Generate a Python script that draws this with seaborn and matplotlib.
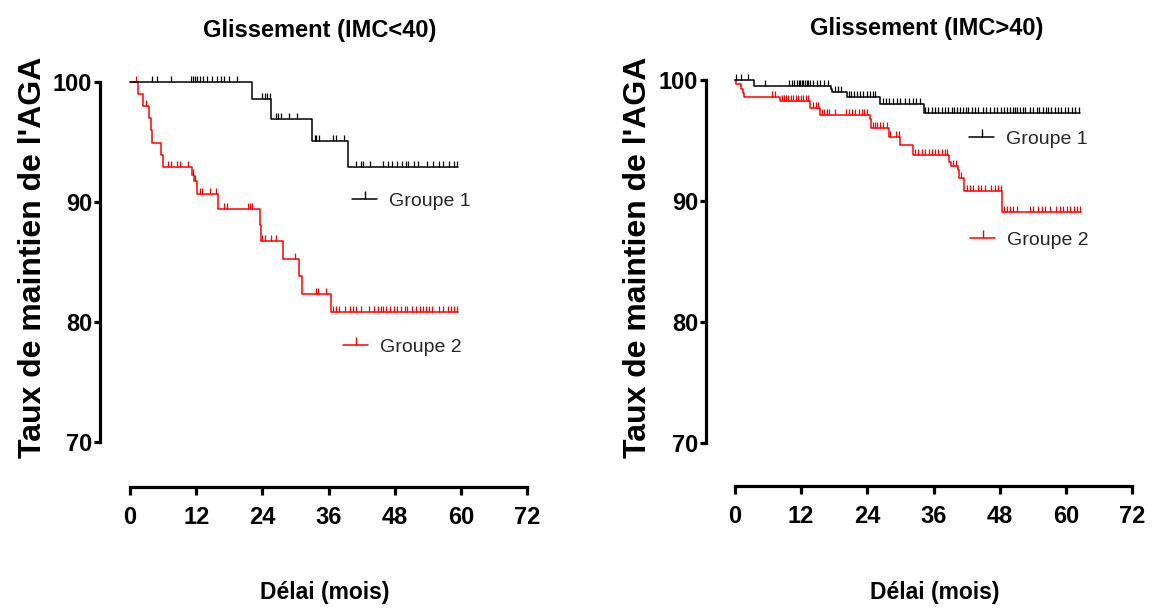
import numpy as np
import pandas as pd
import matplotlib
matplotlib.use("Agg")
import matplotlib.pyplot as plt
from matplotlib.lines import Line2D
import seaborn as sns

# ---------------------------------------------------------------
# Kaplan-Meier data: event times (months), survival after each
# event (%), end of follow-up and censoring times.
# ---------------------------------------------------------------
# Panel 1 : IMC < 40
left_g1_times = [22.1, 25.6, 33.0, 39.5]
left_g1_surv = [98.55, 96.9, 95.1, 92.9]
left_g1_end = 59.4
left_g1_cens = [3.9, 4.95, 7.45, 11.0, 11.5, 11.8, 12.2, 12.7, 13.3, 13.9,
                14.9, 15.7, 16.5, 17.1, 18.0, 19.4, 23.9, 24.4, 24.9, 25.3,
                26.4, 26.8, 27.3, 28.8, 30.3, 33.5, 33.8, 34.2, 36.8, 37.3,
                38.8, 40.9, 41.8, 42.3, 43.5, 45.9, 46.8, 47.6, 48.5, 49.4,
                50.0, 50.4, 51.5, 52.2, 53.9, 54.9, 56.1, 56.7, 57.9, 58.8,
                59.3]

left_g2_times = [1.5, 2.4, 3.5, 3.8, 4.06, 5.6, 5.9, 11.2, 11.6, 12.1, 15.9,
                 23.5, 23.7, 27.8, 30.7, 31.2, 36.5]
left_g2_surv = [99.0, 98.0, 97.0, 96.0, 94.95, 93.95, 92.95, 92.25, 91.75,
                90.7, 89.4, 88.1, 86.75, 85.25, 83.8, 82.3, 80.8]
left_g2_end = 59.4
left_g2_cens = [1.1, 2.9, 6.85, 7.4, 8.5, 9.1, 10.6, 11.4, 11.8, 12.6, 13.0,
                14.5, 15.5, 17.0, 17.5, 21.4, 21.8, 22.2, 23.9, 24.4, 25.6,
                26.4, 30.0, 33.8, 34.1, 35.5, 36.85, 37.27, 37.9, 38.9, 39.9,
                40.5, 40.9, 41.9, 43.3, 44.2, 45.0, 45.5, 45.9, 46.4, 47.2,
                47.8, 48.4, 49.1, 49.8, 50.3, 51.2, 51.8, 52.6, 53.2, 53.6,
                54.2, 54.8, 56.1, 56.7, 57.6, 58.2, 58.8, 59.3]

# Panel 2 : IMC > 40
right_g1_times = [3.45, 17.4, 17.6, 20.3, 26.3, 34.2]
right_g1_surv = [99.55, 99.3, 99.05, 98.6, 98.0, 97.3]
right_g1_end = 62.6
right_g1_cens = [0.2, 1.0, 2.3, 5.4, 9.85, 10.3, 10.7, 11.2, 11.55, 11.8,
                 12.1, 12.4, 12.7, 13.0, 13.3, 13.6, 14.2, 14.9, 15.5, 16.1,
                 16.9, 18.1, 18.6, 19.2, 20.6, 21.0, 21.5, 22.1, 22.7, 23.3,
                 23.9, 24.5, 25.0, 25.4, 26.8, 27.4, 28.0, 28.6, 29.3, 30.0,
                 30.8, 31.6, 32.3, 32.9, 33.6, 34.46, 35.06, 35.67, 36.27,
                 36.88, 37.48, 38.08, 38.69, 39.29, 39.72, 40.2, 40.8, 41.4,
                 41.9, 42.3, 42.9, 43.5, 44.1, 44.9, 45.6, 46.2, 46.9, 47.5,
                 48.2, 48.8, 49.4, 49.9, 50.4, 50.8, 51.2, 51.7, 52.2, 52.6,
                 53.5, 54.1, 54.7, 55.2, 55.8, 56.4, 56.8, 57.4, 58.0, 58.6,
                 59.2, 59.8, 60.4, 61.1, 61.7, 62.3]

right_g2_times = [0.2, 1.0, 1.4, 1.6, 8.2, 13.6, 15.4, 24.4, 24.6, 28.0,
                  29.9, 32.2, 38.8, 39.1, 40.5, 40.7, 41.6, 48.5]
right_g2_surv = [99.7, 99.25, 98.9, 98.6, 98.3, 97.7, 97.15, 96.75, 96.0,
                 95.3, 94.6, 93.85, 93.25, 92.9, 92.55, 91.9, 90.85, 89.1]
right_g2_end = 62.75
right_g2_cens = [6.65, 7.25, 8.5, 8.9, 9.25, 9.7, 10.1, 10.6, 11.1, 11.5,
                 11.9, 12.4, 12.9, 13.3, 14.1, 14.7, 15.1, 15.7, 16.1, 16.6,
                 17.1, 18.1, 20.1, 20.7, 21.3, 21.8, 22.5, 23.0, 23.4, 23.9,
                 25.0, 25.4, 25.8, 26.3, 26.9, 27.5, 28.2, 29.2, 29.8, 32.6,
                 33.2, 33.9, 34.5, 35.1, 35.7, 36.3, 36.9, 37.5, 38.1, 38.5,
                 39.6, 40.1, 41.0, 42.0, 42.6, 43.2, 44.1, 44.7, 45.3, 46.5,
                 47.1, 47.7, 48.2, 48.7, 49.3, 49.9, 50.5, 51.1, 53.5, 54.1,
                 55.0, 55.6, 56.2, 57.1, 58.3, 58.9, 59.5, 60.2, 60.8, 61.4,
                 62.0, 62.6]

titles = ["Glissement (IMC<40)", "Glissement (IMC>40)"]
group_labels = ["Groupe 1", "Groupe 2"]
x_ticks = [0, 12, 24, 36, 48, 60, 72]
y_ticks = [70, 80, 90, 100]
x_label = "Délai (mois)"
y_label = "Taux de maintien de l'AGA"

FONT = ["Liberation Sans", "DejaVu Sans"]
COL_G1 = "#000000"
COL_G2 = "#ff0000"

sns.set_style("white")
plt.rcParams["font.family"] = FONT
plt.rcParams["font.weight"] = "bold"


def step_frame(times, surv, end):
    t = [0.0] + list(times) + [end]
    s = [100.0] + list(surv) + [surv[-1]]
    return pd.DataFrame({"t": t, "s": s})


def level_at(df, tc):
    idx = np.searchsorted(df["t"].values, np.asarray(tc), side="right") - 1
    return df["s"].values[idx]


def draw_group(ax, df, cens, color):
    sns.lineplot(data=df, x="t", y="s", ax=ax, color=color, lw=1.1,
                 drawstyle="steps-post", estimator=None, sort=False,
                 clip_on=False)
    ax.plot(cens, level_at(df, cens), ls="none", marker=2, ms=4.5,
            mew=0.9, color=color, clip_on=False)


fig = plt.figure(figsize=(11.54, 6.09), dpi=100)

panels = [
    dict(rect=[100 / 1154, 1 - 487 / 609, 427 / 1154, 417 / 609],
         xmin=-5.45, ymin=66.25,
         g1=(left_g1_times, left_g1_surv, left_g1_end, left_g1_cens),
         g2=(left_g2_times, left_g2_surv, left_g2_end, left_g2_cens),
         title_x=0.515, title_y=1 + 39 / 417,
         xl=(0.527, -0.252), yl=(-0.158, 0.552),
         leg1=(352 / 1154, 1 - 201 / 609), leg2=(343 / 1154, 1 - 347 / 609)),
    dict(rect=[706 / 1154, 1 - 486 / 609, 426 / 1154, 418 / 609],
         xmin=-5.26, ymin=66.45,
         g1=(right_g1_times, right_g1_surv, right_g1_end, right_g1_cens),
         g2=(right_g2_times, right_g2_surv, right_g2_end, right_g2_cens),
         title_x=0.519, title_y=1 + 39 / 418,
         xl=(0.538, -0.254), yl=(-0.160, 0.548),
         leg1=(969 / 1154, 1 - 139 / 609), leg2=(970 / 1154, 1 - 240 / 609)),
]

for p, title in zip(panels, titles):
    ax = fig.add_axes(p["rect"])
    ax.set_facecolor("white")

    t2, s2, e2, c2 = p["g2"]
    t1, s1, e1, c1 = p["g1"]
    draw_group(ax, step_frame(t2, s2, e2), c2, COL_G2)
    draw_group(ax, step_frame(t1, s1, e1), c1, COL_G1)

    ax.set_xlim(p["xmin"], 72)
    ax.set_ylim(p["ymin"], 101)
    ax.set_xticks(x_ticks)
    ax.set_yticks(y_ticks)
    for side in ("top", "right"):
        ax.spines[side].set_visible(False)
    for side in ("left", "bottom"):
        ax.spines[side].set_linewidth(2.3)
        ax.spines[side].set_color("black")
    ax.spines["left"].set_bounds(70, 100)
    ax.spines["bottom"].set_bounds(0, 72)
    ax.tick_params(axis="x", direction="out", length=6, width=2.3,
                   pad=8, labelsize=17, colors="black", bottom=True)
    ax.tick_params(axis="y", direction="out", length=4, width=2.3,
                   pad=1.5, labelsize=17, colors="black", left=True)

    ax.set_title(title, x=p["title_x"], y=p["title_y"], pad=0,
                 fontsize=17, fontweight="bold", va="center",
                 color="black")
    ax.set_xlabel(x_label, fontsize=16.5, fontweight="bold", color="black")
    ax.xaxis.set_label_coords(*p["xl"])
    ax.xaxis.label.set_verticalalignment("center")
    ax.set_ylabel(y_label, fontsize=23, fontweight="bold", color="black")
    ax.yaxis.set_label_coords(*p["yl"])
    ax.yaxis.label.set_verticalalignment("center")

    for (lx, ly), label, col in zip((p["leg1"], p["leg2"]), group_labels,
                                    (COL_G1, COL_G2)):
        handle = Line2D([0], [0], color=col, lw=1.1, marker=2, ms=6,
                        mew=1.0)
        fig.legend(handles=[handle], labels=[label], loc="center left",
                   bbox_to_anchor=(lx, ly), frameon=False, borderpad=0,
                   borderaxespad=0, handlelength=1.3, handletextpad=0.6,
                   numpoints=1,
                   prop={"family": FONT, "weight": "normal", "size": 14})

fig.savefig("out.png", dpi=100, facecolor="white")
